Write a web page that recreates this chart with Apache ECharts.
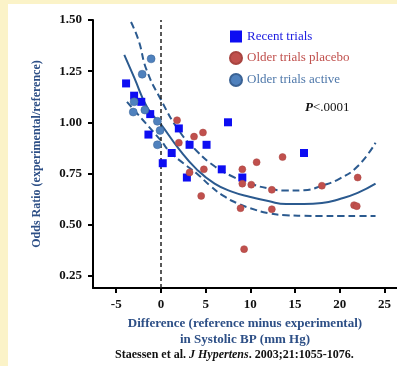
<!DOCTYPE html>
<html>
<head>
<meta charset="utf-8">
<script src="https://cdn.jsdelivr.net/npm/echarts@6/dist/echarts.min.js"></script>
<style>
  html, body { margin: 0; padding: 0; background: #fbf3c8; }
  #chart { position: absolute; left: 8px; top: 4px; width: 389px; height: 362px; background: #ffffff; }
</style>
</head>
<body>
<div id="chart"></div>
<script>
// x = BP difference (mm Hg), y = odds ratio
const recentTrials = [
  [-3.9, 1.19], [-3.0, 1.13], [-2.2, 1.10], [-1.2, 1.04], [-1.4, 0.94],
  [0.2, 0.80], [1.2, 0.85], [2.0, 0.97], [3.2, 0.89], [2.9, 0.73],
  [5.1, 0.89], [6.8, 0.77], [7.5, 1.00], [9.1, 0.73], [16.0, 0.85]
]
const olderPlacebo = [
  [1.8, 1.01], [2.0, 0.90], [3.7, 0.93], [4.7, 0.95], [3.2, 0.755],
  [4.8, 0.77], [4.5, 0.64], [9.1, 0.77], [9.1, 0.70], [10.1, 0.695],
  [8.9, 0.58], [9.3, 0.38], [10.7, 0.805], [12.4, 0.67], [12.4, 0.575],
  [13.6, 0.83], [18.0, 0.69], [22.0, 0.73], [21.6, 0.595], [21.9, 0.59]
]
const olderActive = [
  [-1.1, 1.31], [-2.1, 1.235], [-3.0, 1.10], [-1.8, 1.06], [-3.1, 1.05],
  [-0.4, 1.005], [-0.1, 0.96], [-0.4, 0.89]
]
const fitLine = [
  [-4.1, 1.33], [-3, 1.22], [-1.5, 1.07], [0, 0.99], [2, 0.87], [4, 0.77],
  [6, 0.70], [8, 0.66], [10, 0.635], [12, 0.615], [14, 0.60], [16, 0.60],
  [18, 0.605], [20, 0.625], [22, 0.655], [24, 0.70]
]
const upperBand = [
  [-3.35, 1.49], [-2.5, 1.40], [-1.6, 1.255], [0, 1.11], [2, 0.96], [4, 0.86],
  [6, 0.785], [8, 0.735], [10, 0.70], [12, 0.677], [14, 0.666], [16, 0.668],
  [18, 0.69], [20, 0.725], [22, 0.785], [24, 0.90]
]
const lowerBand = [
  [-3.8, 1.10], [-2, 1.01], [0, 0.91], [1, 0.855], [2.5, 0.80], [4, 0.75],
  [5.5, 0.69], [7, 0.64], [8.5, 0.605], [10, 0.58], [12, 0.556], [14, 0.546],
  [16, 0.543], [18, 0.542], [20, 0.542], [22, 0.542], [24, 0.542]
]
const xTicks = [-5, 0, 5, 10, 15, 20, 25]
const yTicks = [0.25, 0.5, 0.75, 1.0, 1.25, 1.5]

const serif = '"Liberation Serif", "DejaVu Serif", serif'
const lineColor = '#2b5a8f'
const axisNameColor = '#2d4f86'

const myChart = echarts.init(document.getElementById('chart'))

const option = {
  animation: false,
  grid: { left: 85, right: 0, top: 16, bottom: 78 },
  legend: {
    orient: 'vertical',
    left: 216,
    top: 21,
    itemWidth: 12,
    itemHeight: 12,
    itemGap: 8,
    textStyle: { fontFamily: serif, fontSize: 13 },
    data: [
      { name: 'Recent trials', icon: 'rect', textStyle: { color: '#1a1ae0' } },
      { name: 'Older trials placebo', icon: 'circle', textStyle: { color: '#c0504d' } },
      { name: 'Older trials active', icon: 'circle', textStyle: { color: '#4f78aa' } }
    ]
  },
  xAxis: {
    type: 'value',
    min: -7.6,
    max: 26.4,
    name: 'Difference (reference minus experimental)\nin Systolic BP (mm Hg)',
    nameLocation: 'middle',
    nameGap: 27,
    nameTextStyle: { fontFamily: serif, fontSize: 13, fontWeight: 'bold', color: axisNameColor, lineHeight: 16 },
    axisLine: { onZero: false, lineStyle: { color: '#000', width: 2 } },
    axisTick: { show: true, length: 5, lineStyle: { color: '#000', width: 2 }, customValues: xTicks },
    axisLabel: { color: '#111', fontFamily: serif, fontSize: 13, fontWeight: 'bold', margin: 10, customValues: xTicks },
    splitLine: { show: false }
  },
  yAxis: {
    type: 'value',
    min: 0.19,
    max: 1.5,
    name: 'Odds Ratio (experimental/reference)',
    nameLocation: 'middle',
    nameGap: 50,
    nameTextStyle: { fontFamily: serif, fontSize: 12, fontWeight: 'bold', color: axisNameColor },
    axisLine: { show: true, onZero: false, lineStyle: { color: '#000', width: 2 } },
    axisTick: { show: true, length: 5, lineStyle: { color: '#000', width: 2 }, customValues: yTicks },
    axisLabel: {
      color: '#111', fontFamily: serif, fontSize: 13, fontWeight: 'bold', margin: 11,
      customValues: yTicks,
      formatter: (v) => Number(v).toFixed(2)
    },
    splitLine: { show: false }
  },
  graphic: [
    {
      type: 'text',
      left: 297,
      top: 97,
      style: {
        text: '{i|P}{n|<.0001}',
        rich: {
          i: { fontFamily: serif, fontSize: 13, fontStyle: 'italic', fontWeight: 'bold', fill: '#111' },
          n: { fontFamily: serif, fontSize: 13, fill: '#111' }
        }
      }
    },
    {
      type: 'text',
      left: 107,
      top: 345,
      style: {
        text: '{n|Staessen et al. }{i|J Hypertens}{n|. 2003;21:1055-1076.}',
        rich: {
          n: { fontFamily: serif, fontSize: 12, fontWeight: 'bold', fill: '#111' },
          i: { fontFamily: serif, fontSize: 12, fontWeight: 'bold', fontStyle: 'italic', fill: '#111' }
        }
      }
    }
  ],
  series: [
    {
      name: 'fit',
      type: 'line',
      data: fitLine,
      smooth: true,
      showSymbol: false,
      lineStyle: { color: lineColor, width: 2 },
      z: 2,
      markLine: {
        silent: true,
        symbol: ['none', 'none'],
        label: { show: false },
        lineStyle: { color: '#222', width: 1.5, type: [4, 3] },
        data: [{ xAxis: 0 }]
      }
    },
    {
      name: 'upper',
      type: 'line',
      data: upperBand,
      smooth: true,
      showSymbol: false,
      lineStyle: { color: lineColor, width: 2, type: [7, 4] },
      z: 2
    },
    {
      name: 'lower',
      type: 'line',
      data: lowerBand,
      smooth: true,
      showSymbol: false,
      lineStyle: { color: lineColor, width: 2, type: [7, 4] },
      z: 2
    },
    {
      name: 'Recent trials',
      type: 'scatter',
      data: recentTrials,
      symbol: 'rect',
      symbolSize: 8,
      itemStyle: { color: '#0d0df2', opacity: 1 },
      z: 5
    },
    {
      name: 'Older trials placebo',
      type: 'scatter',
      data: olderPlacebo,
      symbol: 'circle',
      symbolSize: 7,
      itemStyle: { color: '#c0504d', borderColor: '#a84440', borderWidth: 0.5, opacity: 1 },
      z: 5
    },
    {
      name: 'Older trials active',
      type: 'scatter',
      data: olderActive,
      symbol: 'circle',
      symbolSize: 8,
      itemStyle: { color: '#4f81bd', borderColor: '#3a6294', borderWidth: 0.5, opacity: 1 },
      z: 5
    }
  ]
}

myChart.setOption(option)
window.addEventListener('resize', () => myChart && myChart.resize())
</script>
</body>
</html>
